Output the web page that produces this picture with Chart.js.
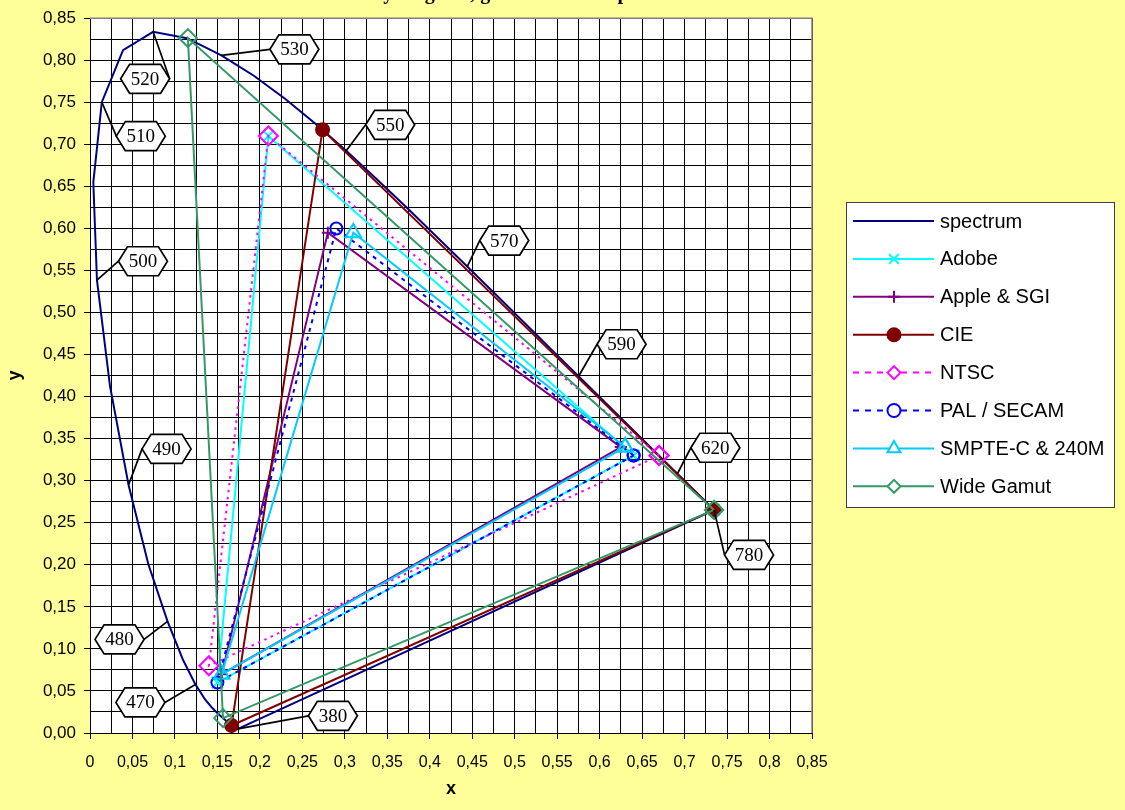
<!DOCTYPE html>
<html>
<head>
<meta charset="utf-8">
<script src="https://cdn.jsdelivr.net/npm/chart.js@4/dist/chart.umd.min.js"></script>
<style>
body { margin: 0; background: #FFFF99; }
#wrap { width: 1125px; height: 810px; }
</style>
</head>
<body>
<div id="wrap"><canvas id="cie" width="1125" height="810"></canvas></div>
<script>
// spectral locus (CIE 1931, 2 deg), 380..700 nm every 5 nm, then 780
const wavelengths = [380,385,390,395,400,405,410,415,420,425,430,435,440,445,450,455,460,465,470,475,
  480,485,490,495,500,505,510,515,520,525,530,535,540,545,550,555,560,565,570,575,580,585,590,595,
  600,605,610,615,620,625,630,635,640,645,650,655,660,665,670,675,680,685,690,695,700,780];
const spectrumX = [0.1741,0.1740,0.1738,0.1736,0.1733,0.1730,0.1726,0.1721,0.1714,0.1703,0.1689,0.1669,
  0.1644,0.1611,0.1566,0.1510,0.1440,0.1355,0.1241,0.1096,0.0913,0.0687,0.0454,0.0235,0.0082,0.0039,
  0.0139,0.0389,0.0743,0.1142,0.1547,0.1929,0.2296,0.2658,0.3016,0.3373,0.3731,0.4087,0.4441,0.4788,
  0.5125,0.5448,0.5752,0.6029,0.6270,0.6482,0.6658,0.6801,0.6915,0.7006,0.7079,0.7140,0.7190,0.7230,
  0.7260,0.7283,0.7300,0.7311,0.7320,0.7327,0.7334,0.7340,0.7344,0.7346,0.7347,0.7347];
const spectrumY = [0.0050,0.0050,0.0049,0.0049,0.0048,0.0048,0.0048,0.0048,0.0051,0.0058,0.0069,0.0086,
  0.0109,0.0138,0.0177,0.0227,0.0297,0.0399,0.0578,0.0868,0.1327,0.2007,0.2950,0.4127,0.5384,0.6548,
  0.7502,0.8120,0.8338,0.8262,0.8059,0.7816,0.7543,0.7243,0.6923,0.6589,0.6245,0.5896,0.5547,0.5202,
  0.4866,0.4544,0.4242,0.3965,0.3725,0.3514,0.3340,0.3197,0.3083,0.2993,0.2920,0.2859,0.2809,0.2770,
  0.2740,0.2717,0.2700,0.2689,0.2680,0.2673,0.2666,0.2660,0.2656,0.2654,0.2653,0.2653];

// primaries: R, G, B, back to R
const adobeX = [0.64, 0.21, 0.15, 0.64];
const adobeY = [0.33, 0.71, 0.06, 0.33];
const appleX = [0.625, 0.28, 0.155, 0.625];
const appleY = [0.34, 0.595, 0.07, 0.34];
const cieX = [0.7347, 0.2738, 0.1666, 0.7347];
const cieY = [0.2653, 0.7174, 0.0089, 0.2653];
const ntscX = [0.67, 0.21, 0.14, 0.67];
const ntscY = [0.33, 0.71, 0.08, 0.33];
const palX = [0.64, 0.29, 0.15, 0.64];
const palY = [0.33, 0.60, 0.06, 0.33];
const smpteX = [0.63, 0.31, 0.155, 0.63];
const smpteY = [0.34, 0.595, 0.07, 0.34];
const wideX = [0.7347, 0.1152, 0.1566, 0.7347];
const wideY = [0.2653, 0.8264, 0.0177, 0.2653];

const labelledNm = [380, 470, 480, 490, 500, 510, 520, 530, 550, 570, 590, 620, 780];

function pts(xs, ys) {
  return xs.map((x, i) => ({ x: x, y: ys[i] }));
}

// close the locus with the line of purples
const locus = pts(spectrumX, spectrumY).concat([{ x: spectrumX[0], y: spectrumY[0] }]);

// callout box offsets in px from the locus point (dx, dy)
const calloutOffset = {
  380: [95, -13], 470: [-55, 18], 480: [-48, 18], 490: [38, -36], 500: [46, -19],
  510: [39, 34], 520: [-8, 47], 530: [73, -6], 550: [44, -26], 570: [37, -26],
  590: [43, -32], 620: [38, -26], 780: [35, 45]
};

const whiteArea = {
  id: 'whiteArea',
  beforeDraw(chart) {
    const a = chart.chartArea, ctx = chart.ctx;
    ctx.save();
    ctx.fillStyle = '#FFFFFF';
    ctx.fillRect(a.left, a.top, a.right - a.left, a.bottom - a.top);
    ctx.restore();
  },
  afterDraw(chart) {
    const a = chart.chartArea, ctx = chart.ctx;
    ctx.save();
    ctx.strokeStyle = '#808080';
    ctx.lineWidth = 1.5;
    ctx.beginPath();
    ctx.moveTo(a.left, a.top);
    ctx.lineTo(a.right, a.top);
    ctx.lineTo(a.right, a.bottom);
    ctx.stroke();
    // title, cut off by the top edge as in the original
    ctx.fillStyle = '#000';
    ctx.font = 'bold 20px "Liberation Serif"';
    ctx.textAlign = 'center';
    ctx.textBaseline = 'alphabetic';
    ctx.fillText('CIE 1931 chromaticity diagram, gamuts of RGB primaries', 450, -1);
    ctx.restore();
  }
};

const callouts = {
  id: 'callouts',
  afterDatasetsDraw(chart) {
    const ctx = chart.ctx, xs = chart.scales.x, ys = chart.scales.y;
    const w = 49, h = 29, inset = 9;
    ctx.save();
    labelledNm.forEach(nm => {
      const i = wavelengths.indexOf(nm);
      const px = xs.getPixelForValue(spectrumX[i]);
      const py = ys.getPixelForValue(spectrumY[i]);
      const off = calloutOffset[nm];
      const cx = px + off[0], cy = py + off[1];
      const ex = off[0] >= 0 ? cx - w / 2 : cx + w / 2;
      ctx.strokeStyle = '#000';
      ctx.lineWidth = 1.7;
      ctx.beginPath();
      ctx.moveTo(px, py);
      ctx.lineTo(ex, cy);
      ctx.stroke();
      ctx.beginPath();
      ctx.moveTo(cx - w / 2, cy);
      ctx.lineTo(cx - w / 2 + inset, cy - h / 2);
      ctx.lineTo(cx + w / 2 - inset, cy - h / 2);
      ctx.lineTo(cx + w / 2, cy);
      ctx.lineTo(cx + w / 2 - inset, cy + h / 2);
      ctx.lineTo(cx - w / 2 + inset, cy + h / 2);
      ctx.closePath();
      ctx.fillStyle = '#FFFFFF';
      ctx.fill();
      ctx.stroke();
      ctx.fillStyle = '#000';
      ctx.font = '19px "Liberation Serif"';
      ctx.textAlign = 'center';
      ctx.textBaseline = 'middle';
      ctx.fillText(String(nm), cx, cy + 1);
    });
    ctx.restore();
  }
};

// legend markers are drawn smaller than on the plot
const legendMarker = [0, 7, 6, 6.5, 6.5, 6.5, 7.5, 6.5];

const boxLegend = {
  id: 'boxLegend',
  afterDraw(chart) {
    const ctx = chart.ctx;
    const left = 846, top = 202, right = 1114, bottom = 507;
    ctx.save();
    ctx.fillStyle = '#FFFFFF';
    ctx.fillRect(left, top, right - left, bottom - top);
    ctx.strokeStyle = '#404040';
    ctx.lineWidth = 1;
    ctx.strokeRect(left + 0.5, top + 0.5, right - left, bottom - top);
    chart.data.datasets.forEach((ds, i) => {
      const y = 221 + i * 37.9;
      ctx.strokeStyle = ds.borderColor;
      ctx.lineWidth = ds.borderWidth;
      ctx.setLineDash(ds.borderDash.length ? [6, 6] : []);
      ctx.beginPath();
      ctx.moveTo(853, y);
      ctx.lineTo(934, y);
      ctx.stroke();
      ctx.setLineDash([]);
      if (ds.pointRadius > 0) {
        ctx.strokeStyle = ds.pointBorderColor;
        ctx.fillStyle = ds.pointBackgroundColor === 'rgba(0,0,0,0)' ? '#FFFFFF' : ds.pointBackgroundColor;
        Chart.helpers.drawPoint(ctx, {
          pointStyle: ds.pointStyle, radius: legendMarker[i], rotation: 0,
          borderWidth: ds.pointBorderWidth
        }, 894, y);
      }
      ctx.fillStyle = '#000';
      ctx.font = '20px "Liberation Sans"';
      ctx.textAlign = 'left';
      ctx.textBaseline = 'middle';
      ctx.fillText(ds.label, 940, y + 1);
    });
    ctx.restore();
  }
};

function series(label, data, color, style, radius, filled, dash, order) {
  return {
    label: label,
    data: data,
    showLine: true,
    borderColor: color,
    borderWidth: 2,
    borderDash: dash,
    pointStyle: style,
    pointRadius: radius,
    pointHoverRadius: radius,
    pointBorderColor: color,
    pointBorderWidth: 2,
    pointBackgroundColor: filled ? color : 'rgba(0,0,0,0)',
    tension: 0,
    order: order
  };
}

const isMajor = v => Math.abs(v / 0.05 - Math.round(v / 0.05)) < 1e-6;

new Chart(document.getElementById('cie').getContext('2d'), {
  type: 'scatter',
  data: {
    datasets: [
      series('spectrum', locus, '#000080', 'circle', 0, false, [], 8),
      series('Adobe', pts(adobeX, adobeY), '#00FFFF', 'crossRot', 8, false, [], 7),
      series('Apple & SGI', pts(appleX, appleY), '#800080', 'cross', 6, false, [], 6),
      series('CIE', pts(cieX, cieY), '#800000', 'circle', 6.5, true, [], 5),
      series('NTSC', pts(ntscX, ntscY), '#FF00FF', 'rectRot', 9.5, false, [2.5, 4.5], 4),
      series('PAL / SECAM', pts(palX, palY), '#0000FF', 'circle', 6, false, [4, 5], 3),
      series('SMPTE-C & 240M', pts(smpteX, smpteY), '#00CCFF', 'triangle', 9, false, [], 2),
      series('Wide Gamut', pts(wideX, wideY), '#339966', 'rectRot', 9, false, [], 1)
    ]
  },
  options: {
    responsive: false,
    animation: false,
    layout: { padding: { top: 12, right: 313, left: 0, bottom: 0 } },
    plugins: {
      legend: { display: false },
      tooltip: { enabled: false }
    },
    scales: {
      x: {
        type: 'linear',
        min: 0,
        max: 0.85,
        ticks: {
          stepSize: 0.025,
          autoSkip: false,
          maxRotation: 0,
          minRotation: 0,
          padding: 14,
          color: '#000',
          font: { family: 'Liberation Sans', size: 16 },
          callback: v => isMajor(v) ? String(+v.toFixed(3)).replace('.', ',') : ''
        },
        grid: {
          color: '#000',
          lineWidth: 1,
          tickLength: 6,
          tickColor: c => (c.tick && isMajor(c.tick.value)) ? '#000' : 'rgba(0,0,0,0)'
        },
        border: { color: '#000', width: 1 },
        title: {
          display: true,
          text: 'x',
          color: '#000',
          font: { family: 'Liberation Sans', size: 18, weight: 'bold' },
          padding: { top: 0, bottom: 10 }
        },
        afterFit(s) { s.height = 77; }
      },
      y: {
        type: 'linear',
        min: 0,
        max: 0.85,
        ticks: {
          stepSize: 0.025,
          autoSkip: false,
          padding: 8,
          color: '#000',
          font: { family: 'Liberation Sans', size: 17 },
          callback: v => isMajor(v) ? v.toFixed(2).replace('.', ',') : ''
        },
        grid: {
          color: '#000',
          lineWidth: 1,
          tickLength: 6,
          tickColor: c => (c.tick && isMajor(c.tick.value)) ? '#000' : 'rgba(0,0,0,0)'
        },
        border: { color: '#000', width: 1 },
        title: {
          display: true,
          text: 'y',
          color: '#000',
          font: { family: 'Liberation Sans', size: 18, weight: 'bold' },
          padding: { top: 4, bottom: 4 }
        },
        afterFit(s) { s.width = 90; }
      }
    }
  },
  plugins: [whiteArea, callouts, boxLegend]
});
</script>
</body>
</html>
